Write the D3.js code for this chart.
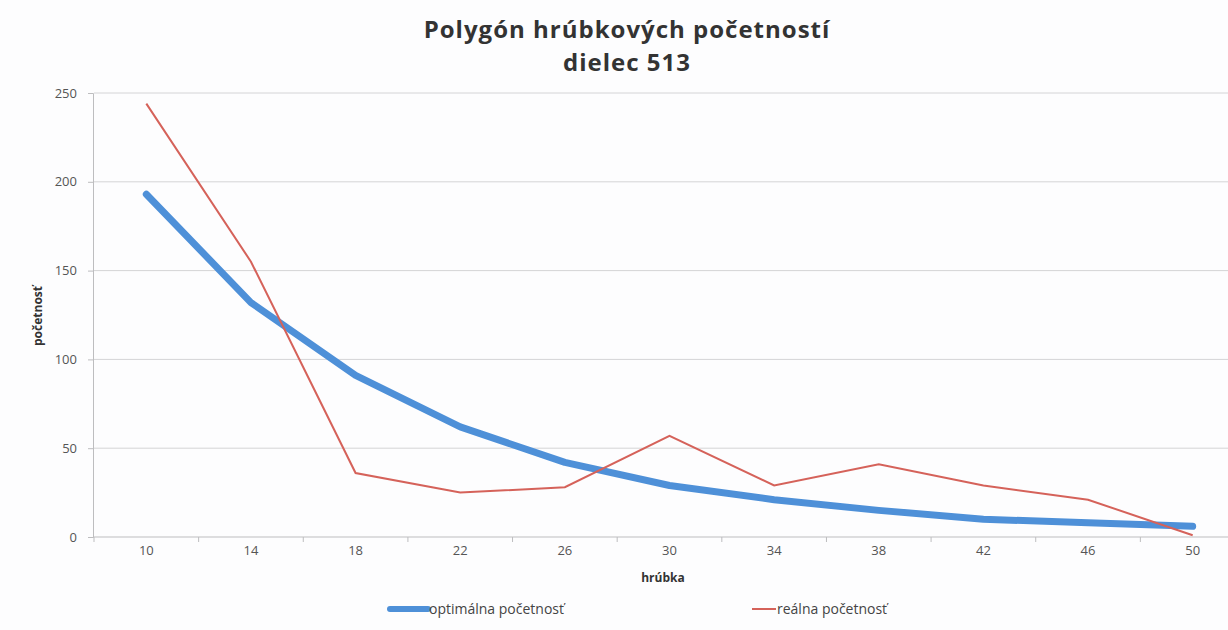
<!DOCTYPE html>
<head>
<meta charset="utf-8">
<style>
  body { margin: 0; background: #fdfdfe; }
  svg { display: block; font-family: "Open Sans", Lato, sans-serif; }
  .axis text { fill: #555; font-size: 13px; font-family: "Open Sans", sans-serif; }
  .grid line { stroke: #d4d4d6; }
</style>
</head>
<body>
<svg width="1228" height="630"></svg>
<script src="https://d3js.org/d3.v7.min.js"></script>
<script>
// hrúbkové stupne
var categories = ["10", "14", "18", "22", "26", "30", "34", "38", "42", "46", "50"];
var optimal = [193, 132, 91, 62, 42, 29, 21, 15, 10, 8, 6];
var real = [244, 155, 36, 25, 28, 57, 29, 41, 29, 21, 1];
var yTicks = [0, 50, 100, 150, 200, 250];
var titleLines = ["Polygón hrúbkových početností", "dielec 513"];

var svg = d3.select("svg"),
    plotL = 94, plotR = 1245, plotT = 93, plotB = 537;

var x = d3.scaleBand().domain(categories).range([plotL, plotR]);
var y = d3.scaleLinear().domain([0, 250]).range([plotB, plotT]);

// gridlines
svg.append("g").attr("class", "grid")
  .selectAll("line").data(yTicks.slice(1)).enter().append("line")
    .attr("x1", plotL).attr("x2", 1228)
    .attr("y1", y).attr("y2", y);

// y axis
var yAxis = svg.append("g")
    .attr("class", "axis")
    .attr("transform", "translate(" + (plotL - 1) + ",0)")
    .call(d3.axisLeft(y).tickValues(yTicks).tickSize(5).tickPadding(11));
yAxis.attr("font-family", null).attr("font-size", null);
yAxis.selectAll("line, path").attr("stroke", "#bdbdbf");

// x axis: ticks sit between categories
var xAxis = svg.append("g")
    .attr("class", "axis")
    .attr("transform", "translate(0," + plotB + ")")
    .call(d3.axisBottom(x).tickSize(0).tickPadding(9));
xAxis.attr("font-family", null).attr("font-size", null);
xAxis.select("path").attr("d", "M" + (plotL - 1) + ",0H1228").attr("stroke", "#bdbdbf");
xAxis.selectAll(".bnd").data(categories).enter().append("line")
    .attr("x1", function(d) { return x(d); }).attr("x2", function(d) { return x(d); })
    .attr("y1", 0).attr("y2", 5).attr("stroke", "#bdbdbf");

var line = function(vals) {
  return d3.line()
    .x(function(d, i) { return x(categories[i]) + x.bandwidth() / 2; })
    .y(function(d) { return y(d); })(vals);
};

svg.append("path")
    .attr("d", line(optimal))
    .attr("fill", "none")
    .attr("stroke", "#4e90d8")
    .attr("stroke-width", 7)
    .attr("stroke-linejoin", "round")
    .attr("stroke-linecap", "round");

svg.append("path")
    .attr("d", line(real))
    .attr("fill", "none")
    .attr("stroke", "#d5625a")
    .attr("stroke-width", 2);

// title
svg.append("g")
    .attr("text-anchor", "middle")
    .attr("font-size", 24).attr("font-weight", "bold").attr("fill", "#333")
    .attr("letter-spacing", 1)
  .selectAll("text").data(titleLines).enter().append("text")
    .attr("x", 627)
    .attr("y", function(d, i) { return 38 + i * 33; })
    .text(function(d) { return d; });

svg.append("text")
    .attr("transform", "translate(42,316)rotate(-90)")
    .attr("text-anchor", "middle")
    .attr("font-size", 12).attr("font-weight", "bold").attr("fill", "#333")
    .text("početnosť");

svg.append("text")
    .attr("x", 663).attr("y", 582)
    .attr("text-anchor", "middle")
    .attr("font-size", 12).attr("font-weight", "bold").attr("fill", "#333")
    .text("hrúbka");

// legend
var legend = [
  { name: "optimálna početnosť", color: "#4e90d8", w: 6, x: 390, len: 38 },
  { name: "reálna početnosť", color: "#d5625a", w: 2, x: 752, len: 24 }
];
var lg = svg.append("g").selectAll("g").data(legend).enter().append("g")
    .attr("transform", function(d) { return "translate(" + d.x + ",609)"; });
lg.append("line")
    .attr("x2", function(d) { return d.len; })
    .attr("stroke", function(d) { return d.color; })
    .attr("stroke-width", function(d) { return d.w; })
    .attr("stroke-linecap", function(d) { return d.w > 3 ? "round" : "butt"; });
lg.append("text")
    .attr("x", function(d) { return d.len + 1; })
    .attr("dy", "0.35em")
    .attr("font-size", 14).attr("fill", "#444")
    .text(function(d) { return d.name; });
</script>
</body>
